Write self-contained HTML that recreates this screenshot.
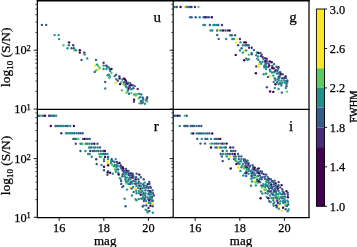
<!DOCTYPE html>
<html><head><meta charset="utf-8"><style>
html,body{margin:0;padding:0;background:#fff;}
body{width:357px;height:247px;overflow:hidden;}
svg{display:block;will-change:transform;}
text{font-family:"Liberation Serif",serif;fill:#000;stroke:#000;stroke-width:0.25px;}
</style></head><body>
<svg width="357" height="247" viewBox="0 0 357 247">
<g>
<circle cx="41.9" cy="24.9" r="1.2" fill="#365c8d"/>
<circle cx="46.2" cy="24.9" r="1.2" fill="#365c8d"/>
<circle cx="54.6" cy="35.1" r="1.2" fill="#21918c"/>
<circle cx="58.6" cy="35.1" r="1.2" fill="#21918c"/>
<circle cx="59.1" cy="39.1" r="1.2" fill="#21918c"/>
<circle cx="69.1" cy="42.4" r="1.2" fill="#440154"/>
<circle cx="63.5" cy="45.3" r="1.2" fill="#5ec962"/>
<circle cx="68.8" cy="45.3" r="1.2" fill="#21918c"/>
<circle cx="73.2" cy="45.3" r="1.2" fill="#472d7b"/>
<circle cx="67.5" cy="48.2" r="1.2" fill="#21918c"/>
<circle cx="71.6" cy="48.2" r="1.2" fill="#365c8d"/>
<circle cx="74.0" cy="48.2" r="1.2" fill="#365c8d"/>
<circle cx="74.6" cy="50.3" r="1.2" fill="#5ec962"/>
<circle cx="75.9" cy="50.3" r="1.2" fill="#21918c"/>
<circle cx="79.8" cy="50.3" r="1.2" fill="#440154"/>
<circle cx="79.8" cy="52.6" r="1.2" fill="#440154"/>
<circle cx="84.3" cy="52.6" r="1.2" fill="#472d7b"/>
<circle cx="84.6" cy="54.5" r="1.2" fill="#21918c"/>
<circle cx="87.2" cy="58.4" r="1.2" fill="#21918c"/>
<circle cx="81.5" cy="59.9" r="1.2" fill="#365c8d"/>
<circle cx="96.0" cy="59.9" r="1.2" fill="#365c8d"/>
<circle cx="95.1" cy="65.8" r="1.2" fill="#fde725"/>
<circle cx="97.1" cy="64.6" r="1.2" fill="#21918c"/>
<circle cx="98.2" cy="66.2" r="1.2" fill="#5ec962"/>
<circle cx="98.7" cy="69.3" r="1.2" fill="#fde725"/>
<circle cx="99.7" cy="68.0" r="1.2" fill="#5ec962"/>
<circle cx="96.2" cy="70.3" r="1.2" fill="#5ec962"/>
<circle cx="94.7" cy="71.9" r="1.2" fill="#365c8d"/>
<circle cx="103.6" cy="62.8" r="1.2" fill="#472d7b"/>
<circle cx="103.6" cy="65.6" r="1.2" fill="#21918c"/>
<circle cx="106.2" cy="65.6" r="1.2" fill="#472d7b"/>
<circle cx="107.3" cy="66.7" r="1.2" fill="#365c8d"/>
<circle cx="103.6" cy="69.0" r="1.2" fill="#21918c"/>
<circle cx="106.4" cy="69.0" r="1.2" fill="#21918c"/>
<circle cx="107.7" cy="75.3" r="1.2" fill="#21918c"/>
<circle cx="105.2" cy="82.0" r="1.2" fill="#365c8d"/>
<circle cx="105.2" cy="88.5" r="1.2" fill="#21918c"/>
<circle cx="121.9" cy="90.2" r="1.2" fill="#5ec962"/>
<circle cx="174.8" cy="7.0" r="1.2" fill="#21918c"/>
<circle cx="176.8" cy="7.0" r="1.2" fill="#365c8d"/>
<circle cx="180.6" cy="7.0" r="1.2" fill="#440154"/>
<circle cx="184.6" cy="7.0" r="1.2" fill="#fde725"/>
<circle cx="186.6" cy="7.0" r="1.2" fill="#21918c"/>
<circle cx="188.2" cy="7.0" r="1.2" fill="#21918c"/>
<circle cx="189.9" cy="7.0" r="1.2" fill="#365c8d"/>
<circle cx="191.5" cy="7.0" r="1.2" fill="#472d7b"/>
<circle cx="194.9" cy="7.0" r="1.2" fill="#472d7b"/>
<circle cx="198.5" cy="7.0" r="1.2" fill="#5ec962"/>
<circle cx="190.0" cy="17.3" r="1.2" fill="#21918c"/>
<circle cx="191.6" cy="17.3" r="1.2" fill="#365c8d"/>
<circle cx="195.7" cy="17.3" r="1.2" fill="#365c8d"/>
<circle cx="199.7" cy="17.3" r="1.2" fill="#21918c"/>
<circle cx="203.7" cy="17.3" r="1.2" fill="#365c8d"/>
<circle cx="205.4" cy="17.3" r="1.2" fill="#440154"/>
<circle cx="207.0" cy="17.3" r="1.2" fill="#365c8d"/>
<circle cx="208.9" cy="17.3" r="1.2" fill="#365c8d"/>
<circle cx="211.8" cy="17.3" r="1.2" fill="#440154"/>
<circle cx="203.4" cy="25.0" r="1.2" fill="#21918c"/>
<circle cx="205.0" cy="25.0" r="1.2" fill="#21918c"/>
<circle cx="209.9" cy="25.0" r="1.2" fill="#365c8d"/>
<circle cx="213.4" cy="25.0" r="1.2" fill="#21918c"/>
<circle cx="215.0" cy="25.0" r="1.2" fill="#21918c"/>
<circle cx="216.8" cy="25.0" r="1.2" fill="#21918c"/>
<circle cx="218.3" cy="25.0" r="1.2" fill="#365c8d"/>
<circle cx="222.0" cy="25.0" r="1.2" fill="#472d7b"/>
<circle cx="210.6" cy="30.5" r="1.2" fill="#21918c"/>
<circle cx="212.3" cy="30.5" r="1.2" fill="#21918c"/>
<circle cx="217.2" cy="30.5" r="1.2" fill="#365c8d"/>
<circle cx="219.0" cy="30.5" r="1.2" fill="#fde725"/>
<circle cx="220.6" cy="30.5" r="1.2" fill="#21918c"/>
<circle cx="222.9" cy="30.5" r="1.2" fill="#440154"/>
<circle cx="225.4" cy="30.5" r="1.2" fill="#365c8d"/>
<circle cx="227.8" cy="30.5" r="1.2" fill="#472d7b"/>
<circle cx="229.7" cy="30.5" r="1.2" fill="#440154"/>
<circle cx="217.2" cy="35.0" r="1.2" fill="#365c8d"/>
<circle cx="230.2" cy="35.2" r="1.2" fill="#21918c"/>
<circle cx="231.8" cy="35.2" r="1.2" fill="#365c8d"/>
<circle cx="235.1" cy="35.2" r="1.2" fill="#365c8d"/>
<circle cx="218.7" cy="38.9" r="1.2" fill="#365c8d"/>
<circle cx="226.2" cy="39.0" r="1.2" fill="#21918c"/>
<circle cx="232.3" cy="39.0" r="1.2" fill="#21918c"/>
<circle cx="233.9" cy="39.0" r="1.2" fill="#21918c"/>
<circle cx="236.7" cy="39.0" r="1.2" fill="#fde725"/>
<circle cx="239.9" cy="39.0" r="1.2" fill="#472d7b"/>
<circle cx="236.1" cy="42.4" r="1.2" fill="#fde725"/>
<circle cx="240.5" cy="42.4" r="1.2" fill="#21918c"/>
<circle cx="244.2" cy="42.4" r="1.2" fill="#440154"/>
<circle cx="245.9" cy="42.4" r="1.2" fill="#440154"/>
<circle cx="238.1" cy="45.3" r="1.2" fill="#365c8d"/>
<circle cx="242.9" cy="45.3" r="1.2" fill="#21918c"/>
<circle cx="245.4" cy="45.3" r="1.2" fill="#365c8d"/>
<circle cx="247.0" cy="45.3" r="1.2" fill="#365c8d"/>
<circle cx="248.6" cy="45.3" r="1.2" fill="#365c8d"/>
<circle cx="249.1" cy="47.8" r="1.2" fill="#472d7b"/>
<circle cx="251.8" cy="47.8" r="1.2" fill="#472d7b"/>
<circle cx="241.6" cy="48.2" r="1.2" fill="#365c8d"/>
<circle cx="240.0" cy="50.5" r="1.2" fill="#21918c"/>
<circle cx="244.2" cy="50.5" r="1.2" fill="#fde725"/>
<circle cx="246.2" cy="50.5" r="1.2" fill="#21918c"/>
<circle cx="242.9" cy="52.6" r="1.2" fill="#21918c"/>
<circle cx="235.7" cy="54.9" r="1.2" fill="#440154"/>
<circle cx="246.2" cy="58.6" r="1.2" fill="#365c8d"/>
<circle cx="247.5" cy="59.7" r="1.2" fill="#21918c"/>
<circle cx="244.2" cy="60.2" r="1.2" fill="#440154"/>
<circle cx="255.9" cy="73.2" r="1.2" fill="#440154"/>
<circle cx="263.7" cy="74.2" r="1.2" fill="#21918c"/>
<circle cx="266.9" cy="87.2" r="1.2" fill="#365c8d"/>
<circle cx="38.3" cy="115.8" r="1.2" fill="#365c8d"/>
<circle cx="39.9" cy="115.8" r="1.2" fill="#21918c"/>
<circle cx="41.5" cy="115.8" r="1.2" fill="#5ec962"/>
<circle cx="43.1" cy="115.8" r="1.2" fill="#365c8d"/>
<circle cx="45.1" cy="115.8" r="1.2" fill="#440154"/>
<circle cx="49.1" cy="115.8" r="1.2" fill="#472d7b"/>
<circle cx="50.8" cy="115.8" r="1.2" fill="#365c8d"/>
<circle cx="52.4" cy="115.8" r="1.2" fill="#21918c"/>
<circle cx="54.0" cy="115.8" r="1.2" fill="#365c8d"/>
<circle cx="56.1" cy="115.8" r="1.2" fill="#21918c"/>
<circle cx="50.8" cy="126.0" r="1.2" fill="#440154"/>
<circle cx="55.6" cy="126.0" r="1.2" fill="#365c8d"/>
<circle cx="57.2" cy="126.0" r="1.2" fill="#365c8d"/>
<circle cx="58.8" cy="126.0" r="1.2" fill="#21918c"/>
<circle cx="60.5" cy="126.0" r="1.2" fill="#365c8d"/>
<circle cx="62.1" cy="126.0" r="1.2" fill="#21918c"/>
<circle cx="63.7" cy="126.0" r="1.2" fill="#21918c"/>
<circle cx="65.8" cy="126.0" r="1.2" fill="#365c8d"/>
<circle cx="67.7" cy="126.0" r="1.2" fill="#365c8d"/>
<circle cx="70.2" cy="126.0" r="1.2" fill="#21918c"/>
<circle cx="73.9" cy="126.0" r="1.2" fill="#440154"/>
<circle cx="61.3" cy="133.3" r="1.2" fill="#472d7b"/>
<circle cx="66.1" cy="133.3" r="1.2" fill="#21918c"/>
<circle cx="67.7" cy="133.3" r="1.2" fill="#21918c"/>
<circle cx="69.4" cy="133.3" r="1.2" fill="#21918c"/>
<circle cx="71.0" cy="133.3" r="1.2" fill="#21918c"/>
<circle cx="72.6" cy="133.3" r="1.2" fill="#21918c"/>
<circle cx="74.5" cy="133.3" r="1.2" fill="#365c8d"/>
<circle cx="76.6" cy="133.3" r="1.2" fill="#21918c"/>
<circle cx="78.7" cy="133.3" r="1.2" fill="#365c8d"/>
<circle cx="80.7" cy="133.3" r="1.2" fill="#365c8d"/>
<circle cx="82.6" cy="133.3" r="1.2" fill="#365c8d"/>
<circle cx="73.4" cy="138.9" r="1.2" fill="#365c8d"/>
<circle cx="75.0" cy="138.9" r="1.2" fill="#365c8d"/>
<circle cx="76.6" cy="138.9" r="1.2" fill="#21918c"/>
<circle cx="78.3" cy="138.9" r="1.2" fill="#5ec962"/>
<circle cx="83.1" cy="138.9" r="1.2" fill="#365c8d"/>
<circle cx="84.7" cy="138.9" r="1.2" fill="#440154"/>
<circle cx="86.4" cy="138.9" r="1.2" fill="#365c8d"/>
<circle cx="87.8" cy="138.9" r="1.2" fill="#365c8d"/>
<circle cx="89.7" cy="138.9" r="1.2" fill="#365c8d"/>
<circle cx="75.8" cy="143.7" r="1.2" fill="#365c8d"/>
<circle cx="80.5" cy="143.7" r="1.2" fill="#21918c"/>
<circle cx="82.1" cy="143.7" r="1.2" fill="#21918c"/>
<circle cx="83.8" cy="143.7" r="1.2" fill="#fde725"/>
<circle cx="85.9" cy="143.7" r="1.2" fill="#21918c"/>
<circle cx="87.5" cy="143.7" r="1.2" fill="#21918c"/>
<circle cx="89.4" cy="143.7" r="1.2" fill="#21918c"/>
<circle cx="91.8" cy="143.7" r="1.2" fill="#365c8d"/>
<circle cx="94.3" cy="143.7" r="1.2" fill="#440154"/>
<circle cx="97.5" cy="143.7" r="1.2" fill="#365c8d"/>
<circle cx="89.1" cy="147.5" r="1.2" fill="#21918c"/>
<circle cx="91.0" cy="147.5" r="1.2" fill="#365c8d"/>
<circle cx="93.5" cy="147.5" r="1.2" fill="#21918c"/>
<circle cx="95.1" cy="147.5" r="1.2" fill="#21918c"/>
<circle cx="97.5" cy="147.5" r="1.2" fill="#21918c"/>
<circle cx="99.9" cy="147.5" r="1.2" fill="#365c8d"/>
<circle cx="80.5" cy="151.0" r="1.2" fill="#365c8d"/>
<circle cx="85.4" cy="151.0" r="1.2" fill="#21918c"/>
<circle cx="90.2" cy="151.0" r="1.2" fill="#472d7b"/>
<circle cx="92.7" cy="151.0" r="1.2" fill="#365c8d"/>
<circle cx="94.3" cy="151.0" r="1.2" fill="#365c8d"/>
<circle cx="96.2" cy="151.0" r="1.2" fill="#21918c"/>
<circle cx="98.3" cy="151.0" r="1.2" fill="#365c8d"/>
<circle cx="100.7" cy="151.0" r="1.2" fill="#365c8d"/>
<circle cx="103.2" cy="151.0" r="1.2" fill="#365c8d"/>
<circle cx="104.8" cy="151.0" r="1.2" fill="#440154"/>
<circle cx="88.1" cy="154.0" r="1.2" fill="#21918c"/>
<circle cx="89.7" cy="154.0" r="1.2" fill="#21918c"/>
<circle cx="99.1" cy="154.0" r="1.2" fill="#5ec962"/>
<circle cx="100.7" cy="154.0" r="1.2" fill="#21918c"/>
<circle cx="102.4" cy="154.0" r="1.2" fill="#21918c"/>
<circle cx="104.0" cy="154.0" r="1.2" fill="#365c8d"/>
<circle cx="105.6" cy="154.0" r="1.2" fill="#365c8d"/>
<circle cx="107.5" cy="154.0" r="1.2" fill="#21918c"/>
<circle cx="91.8" cy="156.8" r="1.2" fill="#21918c"/>
<circle cx="99.9" cy="156.8" r="1.2" fill="#21918c"/>
<circle cx="96.2" cy="159.3" r="1.2" fill="#472d7b"/>
<circle cx="96.7" cy="164.0" r="1.2" fill="#365c8d"/>
<circle cx="101.5" cy="156.9" r="1.2" fill="#5ec962"/>
<circle cx="105.1" cy="156.9" r="1.2" fill="#440154"/>
<circle cx="108.1" cy="156.9" r="1.2" fill="#365c8d"/>
<circle cx="104.0" cy="159.1" r="1.2" fill="#21918c"/>
<circle cx="108.1" cy="159.1" r="1.2" fill="#21918c"/>
<circle cx="111.7" cy="159.1" r="1.2" fill="#472d7b"/>
<circle cx="115.7" cy="159.1" r="1.2" fill="#21918c"/>
<circle cx="104.0" cy="161.1" r="1.2" fill="#365c8d"/>
<circle cx="107.6" cy="161.1" r="1.2" fill="#fde725"/>
<circle cx="111.1" cy="161.1" r="1.2" fill="#21918c"/>
<circle cx="112.7" cy="161.1" r="1.2" fill="#365c8d"/>
<circle cx="107.6" cy="163.2" r="1.2" fill="#fde725"/>
<circle cx="111.1" cy="163.2" r="1.2" fill="#21918c"/>
<circle cx="101.5" cy="165.0" r="1.2" fill="#21918c"/>
<circle cx="108.1" cy="165.2" r="1.2" fill="#440154"/>
<circle cx="112.2" cy="165.0" r="1.2" fill="#5ec962"/>
<circle cx="104.0" cy="166.7" r="1.2" fill="#440154"/>
<circle cx="104.0" cy="170.3" r="1.2" fill="#365c8d"/>
<circle cx="108.1" cy="171.1" r="1.2" fill="#21918c"/>
<circle cx="107.6" cy="172.5" r="1.2" fill="#440154"/>
<circle cx="110.1" cy="172.8" r="1.2" fill="#440154"/>
<circle cx="112.7" cy="173.8" r="1.2" fill="#21918c"/>
<circle cx="125.6" cy="206.3" r="1.2" fill="#365c8d"/>
<circle cx="107.4" cy="174.8" r="1.2" fill="#365c8d"/>
<circle cx="174.3" cy="115.8" r="1.2" fill="#365c8d"/>
<circle cx="175.9" cy="115.8" r="1.2" fill="#365c8d"/>
<circle cx="177.9" cy="115.8" r="1.2" fill="#440154"/>
<circle cx="179.8" cy="115.8" r="1.2" fill="#365c8d"/>
<circle cx="184.7" cy="115.8" r="1.2" fill="#5ec962"/>
<circle cx="186.8" cy="115.8" r="1.2" fill="#365c8d"/>
<circle cx="179.8" cy="126.0" r="1.2" fill="#21918c"/>
<circle cx="184.3" cy="126.0" r="1.2" fill="#365c8d"/>
<circle cx="185.9" cy="126.0" r="1.2" fill="#365c8d"/>
<circle cx="187.6" cy="126.0" r="1.2" fill="#365c8d"/>
<circle cx="190.8" cy="126.0" r="1.2" fill="#365c8d"/>
<circle cx="192.4" cy="126.0" r="1.2" fill="#365c8d"/>
<circle cx="194.0" cy="126.0" r="1.2" fill="#365c8d"/>
<circle cx="196.5" cy="126.0" r="1.2" fill="#365c8d"/>
<circle cx="198.9" cy="126.0" r="1.2" fill="#365c8d"/>
<circle cx="201.3" cy="126.0" r="1.2" fill="#365c8d"/>
<circle cx="191.6" cy="133.4" r="1.2" fill="#21918c"/>
<circle cx="193.2" cy="133.4" r="1.2" fill="#440154"/>
<circle cx="196.5" cy="133.4" r="1.2" fill="#21918c"/>
<circle cx="198.1" cy="133.4" r="1.2" fill="#21918c"/>
<circle cx="199.7" cy="133.4" r="1.2" fill="#365c8d"/>
<circle cx="201.3" cy="133.4" r="1.2" fill="#365c8d"/>
<circle cx="203.4" cy="133.4" r="1.2" fill="#365c8d"/>
<circle cx="205.4" cy="133.4" r="1.2" fill="#21918c"/>
<circle cx="207.3" cy="133.4" r="1.2" fill="#365c8d"/>
<circle cx="209.4" cy="133.4" r="1.2" fill="#365c8d"/>
<circle cx="212.2" cy="133.4" r="1.2" fill="#440154"/>
<circle cx="197.3" cy="138.9" r="1.2" fill="#365c8d"/>
<circle cx="201.8" cy="138.9" r="1.2" fill="#21918c"/>
<circle cx="205.4" cy="138.9" r="1.2" fill="#365c8d"/>
<circle cx="207.3" cy="138.9" r="1.2" fill="#365c8d"/>
<circle cx="211.0" cy="138.9" r="1.2" fill="#21918c"/>
<circle cx="214.7" cy="138.9" r="1.2" fill="#365c8d"/>
<circle cx="216.4" cy="138.9" r="1.2" fill="#365c8d"/>
<circle cx="218.3" cy="138.9" r="1.2" fill="#365c8d"/>
<circle cx="220.2" cy="138.9" r="1.2" fill="#440154"/>
<circle cx="200.5" cy="143.6" r="1.2" fill="#365c8d"/>
<circle cx="205.0" cy="143.6" r="1.2" fill="#365c8d"/>
<circle cx="210.5" cy="143.6" r="1.2" fill="#5ec962"/>
<circle cx="212.2" cy="143.6" r="1.2" fill="#21918c"/>
<circle cx="214.7" cy="143.6" r="1.2" fill="#365c8d"/>
<circle cx="216.7" cy="143.6" r="1.2" fill="#365c8d"/>
<circle cx="218.6" cy="143.6" r="1.2" fill="#365c8d"/>
<circle cx="221.2" cy="143.6" r="1.2" fill="#365c8d"/>
<circle cx="222.8" cy="143.6" r="1.2" fill="#472d7b"/>
<circle cx="224.3" cy="143.6" r="1.2" fill="#21918c"/>
<circle cx="226.7" cy="143.6" r="1.2" fill="#440154"/>
<circle cx="211.0" cy="147.5" r="1.2" fill="#440154"/>
<circle cx="215.4" cy="147.5" r="1.2" fill="#21918c"/>
<circle cx="217.0" cy="147.5" r="1.2" fill="#365c8d"/>
<circle cx="218.6" cy="147.5" r="1.2" fill="#fde725"/>
<circle cx="220.2" cy="147.5" r="1.2" fill="#21918c"/>
<circle cx="221.8" cy="147.5" r="1.2" fill="#21918c"/>
<circle cx="224.3" cy="147.5" r="1.2" fill="#21918c"/>
<circle cx="225.9" cy="147.5" r="1.2" fill="#365c8d"/>
<circle cx="230.4" cy="147.5" r="1.2" fill="#440154"/>
<circle cx="233.2" cy="147.5" r="1.2" fill="#365c8d"/>
<circle cx="222.7" cy="151.0" r="1.2" fill="#472d7b"/>
<circle cx="226.7" cy="151.0" r="1.2" fill="#21918c"/>
<circle cx="231.1" cy="151.0" r="1.2" fill="#365c8d"/>
<circle cx="233.2" cy="151.0" r="1.2" fill="#365c8d"/>
<circle cx="235.3" cy="151.0" r="1.2" fill="#365c8d"/>
<circle cx="220.7" cy="154.0" r="1.2" fill="#365c8d"/>
<circle cx="223.0" cy="154.0" r="1.2" fill="#21918c"/>
<circle cx="225.6" cy="154.0" r="1.2" fill="#21918c"/>
<circle cx="227.8" cy="154.0" r="1.2" fill="#365c8d"/>
<circle cx="229.9" cy="154.0" r="1.2" fill="#365c8d"/>
<circle cx="232.4" cy="154.0" r="1.2" fill="#472d7b"/>
<circle cx="234.8" cy="154.0" r="1.2" fill="#440154"/>
<circle cx="238.0" cy="154.0" r="1.2" fill="#365c8d"/>
<circle cx="221.8" cy="156.4" r="1.2" fill="#365c8d"/>
<circle cx="226.7" cy="156.4" r="1.2" fill="#21918c"/>
<circle cx="229.9" cy="156.4" r="1.2" fill="#fde725"/>
<circle cx="234.0" cy="156.4" r="1.2" fill="#21918c"/>
<circle cx="235.6" cy="156.4" r="1.2" fill="#365c8d"/>
<circle cx="238.8" cy="156.4" r="1.2" fill="#365c8d"/>
<circle cx="241.3" cy="156.4" r="1.2" fill="#365c8d"/>
<circle cx="228.8" cy="159.1" r="1.2" fill="#21918c"/>
<circle cx="234.0" cy="159.1" r="1.2" fill="#365c8d"/>
<circle cx="238.8" cy="159.1" r="1.2" fill="#365c8d"/>
<circle cx="241.3" cy="159.1" r="1.2" fill="#21918c"/>
<circle cx="243.7" cy="159.1" r="1.2" fill="#365c8d"/>
<circle cx="222.7" cy="161.1" r="1.2" fill="#472d7b"/>
<circle cx="235.6" cy="160.7" r="1.2" fill="#21918c"/>
<circle cx="237.2" cy="161.6" r="1.2" fill="#5ec962"/>
<circle cx="239.6" cy="161.6" r="1.2" fill="#21918c"/>
<circle cx="236.4" cy="164.0" r="1.2" fill="#440154"/>
<circle cx="239.6" cy="164.0" r="1.2" fill="#21918c"/>
<circle cx="230.7" cy="168.5" r="1.2" fill="#440154"/>
<circle cx="238.8" cy="168.0" r="1.2" fill="#fde725"/>
<circle cx="235.5" cy="158.6" r="1.2" fill="#21918c"/>
<circle cx="245.1" cy="159.6" r="1.2" fill="#365c8d"/>
<circle cx="238.0" cy="163.2" r="1.2" fill="#365c8d"/>
<circle cx="238.0" cy="166.7" r="1.2" fill="#fde725"/>
<circle cx="255.6" cy="182.2" r="1.2" fill="#5ec962"/>
<circle cx="257.7" cy="182.7" r="1.2" fill="#5ec962"/>
<circle cx="260.2" cy="182.2" r="1.2" fill="#21918c"/>
<circle cx="251.1" cy="185.7" r="1.2" fill="#21918c"/>
<circle cx="114.5" cy="162.0" r="1.2" fill="#365c8d"/>
<circle cx="116.9" cy="162.0" r="1.2" fill="#365c8d"/>
<circle cx="117.8" cy="163.6" r="1.2" fill="#365c8d"/>
<circle cx="119.5" cy="162.9" r="1.2" fill="#440154"/>
<circle cx="114.8" cy="165.0" r="1.2" fill="#21918c"/>
<circle cx="116.4" cy="165.0" r="1.2" fill="#21918c"/>
<circle cx="120.7" cy="165.4" r="1.2" fill="#440154"/>
<circle cx="114.1" cy="166.3" r="1.2" fill="#21918c"/>
<circle cx="116.4" cy="166.9" r="1.2" fill="#21918c"/>
<circle cx="117.7" cy="166.2" r="1.2" fill="#21918c"/>
<circle cx="120.5" cy="166.8" r="1.2" fill="#365c8d"/>
<circle cx="122.6" cy="167.3" r="1.2" fill="#440154"/>
<circle cx="115.0" cy="169.5" r="1.2" fill="#5ec962"/>
<circle cx="116.5" cy="169.4" r="1.2" fill="#21918c"/>
<circle cx="118.2" cy="169.5" r="1.2" fill="#365c8d"/>
<circle cx="121.4" cy="168.5" r="1.2" fill="#365c8d"/>
<circle cx="123.3" cy="168.7" r="1.2" fill="#440154"/>
<circle cx="126.0" cy="168.9" r="1.2" fill="#365c8d"/>
<circle cx="122.7" cy="170.5" r="1.2" fill="#472d7b"/>
<circle cx="124.7" cy="170.9" r="1.2" fill="#365c8d"/>
<circle cx="127.0" cy="170.9" r="1.2" fill="#440154"/>
<circle cx="128.5" cy="171.0" r="1.2" fill="#365c8d"/>
<circle cx="115.9" cy="171.7" r="1.2" fill="#21918c"/>
<circle cx="118.3" cy="172.7" r="1.2" fill="#21918c"/>
<circle cx="124.1" cy="172.2" r="1.2" fill="#365c8d"/>
<circle cx="125.7" cy="171.8" r="1.2" fill="#365c8d"/>
<circle cx="127.5" cy="172.2" r="1.2" fill="#365c8d"/>
<circle cx="118.7" cy="174.5" r="1.2" fill="#440154"/>
<circle cx="122.8" cy="174.3" r="1.2" fill="#365c8d"/>
<circle cx="124.9" cy="173.5" r="1.2" fill="#21918c"/>
<circle cx="126.2" cy="174.2" r="1.2" fill="#21918c"/>
<circle cx="129.0" cy="173.4" r="1.2" fill="#365c8d"/>
<circle cx="130.9" cy="173.4" r="1.2" fill="#440154"/>
<circle cx="132.8" cy="173.7" r="1.2" fill="#365c8d"/>
<circle cx="122.3" cy="176.3" r="1.2" fill="#365c8d"/>
<circle cx="124.6" cy="176.3" r="1.2" fill="#21918c"/>
<circle cx="128.7" cy="175.1" r="1.2" fill="#472d7b"/>
<circle cx="130.1" cy="175.6" r="1.2" fill="#365c8d"/>
<circle cx="132.2" cy="175.3" r="1.2" fill="#472d7b"/>
<circle cx="133.4" cy="176.1" r="1.2" fill="#365c8d"/>
<circle cx="119.9" cy="178.1" r="1.2" fill="#21918c"/>
<circle cx="125.5" cy="177.5" r="1.2" fill="#21918c"/>
<circle cx="127.3" cy="177.6" r="1.2" fill="#21918c"/>
<circle cx="130.0" cy="177.6" r="1.2" fill="#365c8d"/>
<circle cx="132.1" cy="177.5" r="1.2" fill="#440154"/>
<circle cx="133.4" cy="177.8" r="1.2" fill="#365c8d"/>
<circle cx="120.7" cy="179.1" r="1.2" fill="#21918c"/>
<circle cx="125.5" cy="179.3" r="1.2" fill="#21918c"/>
<circle cx="128.9" cy="179.4" r="1.2" fill="#365c8d"/>
<circle cx="130.3" cy="179.4" r="1.2" fill="#21918c"/>
<circle cx="121.1" cy="181.0" r="1.2" fill="#365c8d"/>
<circle cx="125.7" cy="180.8" r="1.2" fill="#21918c"/>
<circle cx="127.9" cy="181.3" r="1.2" fill="#21918c"/>
<circle cx="131.9" cy="181.6" r="1.2" fill="#21918c"/>
<circle cx="133.7" cy="180.9" r="1.2" fill="#365c8d"/>
<circle cx="126.5" cy="182.2" r="1.2" fill="#21918c"/>
<circle cx="130.7" cy="182.2" r="1.2" fill="#365c8d"/>
<circle cx="136.6" cy="173.8" r="1.2" fill="#365c8d"/>
<circle cx="139.3" cy="174.6" r="1.2" fill="#440154"/>
<circle cx="140.9" cy="177.2" r="1.2" fill="#365c8d"/>
<circle cx="136.1" cy="177.2" r="1.2" fill="#365c8d"/>
<circle cx="135.7" cy="179.4" r="1.2" fill="#440154"/>
<circle cx="138.3" cy="179.2" r="1.2" fill="#365c8d"/>
<circle cx="143.7" cy="179.2" r="1.2" fill="#365c8d"/>
<circle cx="135.7" cy="181.7" r="1.2" fill="#21918c"/>
<circle cx="138.9" cy="181.8" r="1.2" fill="#365c8d"/>
<circle cx="149.2" cy="182.0" r="1.2" fill="#365c8d"/>
<circle cx="144.6" cy="182.6" r="1.2" fill="#21918c"/>
<circle cx="136.7" cy="183.8" r="1.2" fill="#21918c"/>
<circle cx="138.3" cy="183.4" r="1.2" fill="#365c8d"/>
<circle cx="140.8" cy="183.5" r="1.2" fill="#21918c"/>
<circle cx="143.3" cy="184.3" r="1.2" fill="#365c8d"/>
<circle cx="147.8" cy="184.1" r="1.2" fill="#440154"/>
<circle cx="149.5" cy="183.7" r="1.2" fill="#365c8d"/>
<circle cx="136.4" cy="185.9" r="1.2" fill="#21918c"/>
<circle cx="139.3" cy="185.8" r="1.2" fill="#472d7b"/>
<circle cx="141.0" cy="186.0" r="1.2" fill="#21918c"/>
<circle cx="143.8" cy="186.0" r="1.2" fill="#365c8d"/>
<circle cx="146.1" cy="185.7" r="1.2" fill="#21918c"/>
<circle cx="147.4" cy="186.6" r="1.2" fill="#365c8d"/>
<circle cx="150.1" cy="186.7" r="1.2" fill="#365c8d"/>
<circle cx="135.3" cy="188.8" r="1.2" fill="#fde725"/>
<circle cx="138.1" cy="188.0" r="1.2" fill="#21918c"/>
<circle cx="140.5" cy="188.7" r="1.2" fill="#440154"/>
<circle cx="142.3" cy="188.3" r="1.2" fill="#21918c"/>
<circle cx="144.1" cy="188.1" r="1.2" fill="#21918c"/>
<circle cx="146.3" cy="187.8" r="1.2" fill="#365c8d"/>
<circle cx="148.5" cy="188.0" r="1.2" fill="#365c8d"/>
<circle cx="150.9" cy="187.8" r="1.2" fill="#365c8d"/>
<circle cx="136.3" cy="190.8" r="1.2" fill="#21918c"/>
<circle cx="139.0" cy="191.1" r="1.2" fill="#21918c"/>
<circle cx="141.2" cy="190.7" r="1.2" fill="#5ec962"/>
<circle cx="142.5" cy="190.9" r="1.2" fill="#21918c"/>
<circle cx="145.4" cy="190.4" r="1.2" fill="#365c8d"/>
<circle cx="148.1" cy="190.6" r="1.2" fill="#365c8d"/>
<circle cx="150.0" cy="191.1" r="1.2" fill="#440154"/>
<circle cx="152.5" cy="190.4" r="1.2" fill="#365c8d"/>
<circle cx="136.6" cy="193.2" r="1.2" fill="#21918c"/>
<circle cx="139.0" cy="193.1" r="1.2" fill="#21918c"/>
<circle cx="141.1" cy="192.4" r="1.2" fill="#21918c"/>
<circle cx="143.5" cy="193.2" r="1.2" fill="#365c8d"/>
<circle cx="145.4" cy="193.2" r="1.2" fill="#21918c"/>
<circle cx="148.8" cy="193.2" r="1.2" fill="#365c8d"/>
<circle cx="150.9" cy="192.2" r="1.2" fill="#365c8d"/>
<circle cx="152.9" cy="193.2" r="1.2" fill="#365c8d"/>
<circle cx="140.7" cy="194.7" r="1.2" fill="#440154"/>
<circle cx="142.8" cy="195.0" r="1.2" fill="#21918c"/>
<circle cx="145.1" cy="195.0" r="1.2" fill="#21918c"/>
<circle cx="147.8" cy="194.4" r="1.2" fill="#5ec962"/>
<circle cx="149.3" cy="194.6" r="1.2" fill="#365c8d"/>
<circle cx="151.1" cy="194.5" r="1.2" fill="#21918c"/>
<circle cx="153.8" cy="195.4" r="1.2" fill="#472d7b"/>
<circle cx="143.1" cy="197.2" r="1.2" fill="#21918c"/>
<circle cx="145.5" cy="197.0" r="1.2" fill="#365c8d"/>
<circle cx="147.8" cy="197.4" r="1.2" fill="#21918c"/>
<circle cx="150.2" cy="197.0" r="1.2" fill="#21918c"/>
<circle cx="152.1" cy="197.0" r="1.2" fill="#365c8d"/>
<circle cx="135.5" cy="199.1" r="1.2" fill="#21918c"/>
<circle cx="138.8" cy="198.9" r="1.2" fill="#21918c"/>
<circle cx="141.3" cy="198.6" r="1.2" fill="#365c8d"/>
<circle cx="144.7" cy="199.1" r="1.2" fill="#472d7b"/>
<circle cx="147.8" cy="198.9" r="1.2" fill="#21918c"/>
<circle cx="150.0" cy="199.1" r="1.2" fill="#365c8d"/>
<circle cx="151.8" cy="198.8" r="1.2" fill="#21918c"/>
<circle cx="143.9" cy="201.0" r="1.2" fill="#365c8d"/>
<circle cx="146.0" cy="201.0" r="1.2" fill="#21918c"/>
<circle cx="149.2" cy="200.5" r="1.2" fill="#440154"/>
<circle cx="151.5" cy="201.0" r="1.2" fill="#21918c"/>
<circle cx="152.9" cy="200.7" r="1.2" fill="#365c8d"/>
<circle cx="146.5" cy="203.5" r="1.2" fill="#fde725"/>
<circle cx="148.8" cy="202.8" r="1.2" fill="#21918c"/>
<circle cx="150.5" cy="203.3" r="1.2" fill="#21918c"/>
<circle cx="152.6" cy="203.0" r="1.2" fill="#fde725"/>
<circle cx="121.2" cy="183.9" r="1.2" fill="#365c8d"/>
<circle cx="126.7" cy="183.6" r="1.2" fill="#5ec962"/>
<circle cx="128.8" cy="184.0" r="1.2" fill="#21918c"/>
<circle cx="130.4" cy="184.0" r="1.2" fill="#365c8d"/>
<circle cx="132.5" cy="183.5" r="1.2" fill="#21918c"/>
<circle cx="135.1" cy="183.8" r="1.2" fill="#365c8d"/>
<circle cx="123.3" cy="186.1" r="1.2" fill="#365c8d"/>
<circle cx="122.3" cy="187.1" r="1.2" fill="#365c8d"/>
<circle cx="130.3" cy="187.4" r="1.2" fill="#fde725"/>
<circle cx="133.1" cy="187.0" r="1.2" fill="#21918c"/>
<circle cx="127.0" cy="189.6" r="1.2" fill="#21918c"/>
<circle cx="131.6" cy="188.6" r="1.2" fill="#365c8d"/>
<circle cx="133.7" cy="191.9" r="1.2" fill="#365c8d"/>
<circle cx="131.9" cy="195.5" r="1.2" fill="#21918c"/>
<circle cx="124.6" cy="198.8" r="1.2" fill="#21918c"/>
<circle cx="136.5" cy="200.2" r="1.2" fill="#21918c"/>
<circle cx="142.9" cy="198.7" r="1.2" fill="#21918c"/>
<circle cx="153.0" cy="204.7" r="1.2" fill="#fde725"/>
<circle cx="143.7" cy="205.6" r="1.2" fill="#365c8d"/>
<circle cx="146.3" cy="205.5" r="1.2" fill="#365c8d"/>
<circle cx="150.4" cy="205.7" r="1.2" fill="#440154"/>
<circle cx="152.7" cy="206.3" r="1.2" fill="#365c8d"/>
<circle cx="142.7" cy="206.5" r="1.2" fill="#365c8d"/>
<circle cx="148.5" cy="208.0" r="1.2" fill="#472d7b"/>
<circle cx="145.7" cy="209.8" r="1.2" fill="#21918c"/>
<circle cx="147.6" cy="211.0" r="1.2" fill="#21918c"/>
<circle cx="149.5" cy="211.1" r="1.2" fill="#365c8d"/>
<circle cx="152.8" cy="212.7" r="1.2" fill="#21918c"/>
<circle cx="147.6" cy="212.4" r="1.2" fill="#21918c"/>
<circle cx="240.9" cy="161.2" r="1.2" fill="#21918c"/>
<circle cx="244.0" cy="160.8" r="1.2" fill="#365c8d"/>
<circle cx="246.0" cy="161.5" r="1.2" fill="#472d7b"/>
<circle cx="247.6" cy="160.6" r="1.2" fill="#365c8d"/>
<circle cx="242.9" cy="163.7" r="1.2" fill="#21918c"/>
<circle cx="245.3" cy="162.8" r="1.2" fill="#365c8d"/>
<circle cx="246.8" cy="162.8" r="1.2" fill="#365c8d"/>
<circle cx="248.6" cy="163.3" r="1.2" fill="#365c8d"/>
<circle cx="242.2" cy="165.8" r="1.2" fill="#21918c"/>
<circle cx="245.6" cy="165.2" r="1.2" fill="#365c8d"/>
<circle cx="248.2" cy="164.8" r="1.2" fill="#472d7b"/>
<circle cx="250.3" cy="165.7" r="1.2" fill="#365c8d"/>
<circle cx="252.7" cy="165.1" r="1.2" fill="#365c8d"/>
<circle cx="241.4" cy="167.3" r="1.2" fill="#21918c"/>
<circle cx="243.1" cy="166.9" r="1.2" fill="#5ec962"/>
<circle cx="245.2" cy="167.1" r="1.2" fill="#365c8d"/>
<circle cx="246.8" cy="167.2" r="1.2" fill="#440154"/>
<circle cx="249.4" cy="167.0" r="1.2" fill="#365c8d"/>
<circle cx="253.2" cy="167.3" r="1.2" fill="#365c8d"/>
<circle cx="254.7" cy="167.6" r="1.2" fill="#440154"/>
<circle cx="244.0" cy="168.4" r="1.2" fill="#5ec962"/>
<circle cx="246.6" cy="168.7" r="1.2" fill="#21918c"/>
<circle cx="248.8" cy="169.2" r="1.2" fill="#365c8d"/>
<circle cx="252.7" cy="169.3" r="1.2" fill="#365c8d"/>
<circle cx="254.5" cy="169.2" r="1.2" fill="#440154"/>
<circle cx="257.4" cy="169.1" r="1.2" fill="#365c8d"/>
<circle cx="258.7" cy="168.4" r="1.2" fill="#440154"/>
<circle cx="240.4" cy="170.9" r="1.2" fill="#21918c"/>
<circle cx="246.4" cy="171.3" r="1.2" fill="#21918c"/>
<circle cx="248.6" cy="170.7" r="1.2" fill="#21918c"/>
<circle cx="250.8" cy="171.3" r="1.2" fill="#365c8d"/>
<circle cx="252.6" cy="171.6" r="1.2" fill="#21918c"/>
<circle cx="254.9" cy="170.6" r="1.2" fill="#365c8d"/>
<circle cx="256.9" cy="170.7" r="1.2" fill="#365c8d"/>
<circle cx="258.1" cy="171.4" r="1.2" fill="#365c8d"/>
<circle cx="260.6" cy="171.2" r="1.2" fill="#365c8d"/>
<circle cx="245.0" cy="173.3" r="1.2" fill="#21918c"/>
<circle cx="246.5" cy="173.0" r="1.2" fill="#440154"/>
<circle cx="248.5" cy="173.7" r="1.2" fill="#21918c"/>
<circle cx="251.4" cy="173.5" r="1.2" fill="#21918c"/>
<circle cx="252.7" cy="173.2" r="1.2" fill="#472d7b"/>
<circle cx="254.5" cy="173.3" r="1.2" fill="#21918c"/>
<circle cx="257.3" cy="172.9" r="1.2" fill="#365c8d"/>
<circle cx="259.1" cy="173.1" r="1.2" fill="#440154"/>
<circle cx="261.7" cy="173.2" r="1.2" fill="#365c8d"/>
<circle cx="243.4" cy="175.5" r="1.2" fill="#21918c"/>
<circle cx="246.2" cy="175.9" r="1.2" fill="#365c8d"/>
<circle cx="251.5" cy="176.0" r="1.2" fill="#472d7b"/>
<circle cx="253.4" cy="175.3" r="1.2" fill="#21918c"/>
<circle cx="255.2" cy="175.1" r="1.2" fill="#365c8d"/>
<circle cx="258.1" cy="175.9" r="1.2" fill="#365c8d"/>
<circle cx="259.7" cy="175.2" r="1.2" fill="#365c8d"/>
<circle cx="252.4" cy="177.7" r="1.2" fill="#21918c"/>
<circle cx="254.5" cy="177.7" r="1.2" fill="#21918c"/>
<circle cx="256.6" cy="177.0" r="1.2" fill="#5ec962"/>
<circle cx="260.9" cy="177.5" r="1.2" fill="#365c8d"/>
<circle cx="251.3" cy="178.8" r="1.2" fill="#21918c"/>
<circle cx="257.2" cy="179.6" r="1.2" fill="#472d7b"/>
<circle cx="259.5" cy="179.0" r="1.2" fill="#21918c"/>
<circle cx="261.5" cy="179.2" r="1.2" fill="#365c8d"/>
<circle cx="252.1" cy="181.5" r="1.2" fill="#21918c"/>
<circle cx="254.4" cy="180.7" r="1.2" fill="#fde725"/>
<circle cx="257.3" cy="180.9" r="1.2" fill="#21918c"/>
<circle cx="258.8" cy="181.2" r="1.2" fill="#440154"/>
<circle cx="262.0" cy="171.8" r="1.2" fill="#365c8d"/>
<circle cx="263.7" cy="174.1" r="1.2" fill="#472d7b"/>
<circle cx="266.1" cy="174.6" r="1.2" fill="#472d7b"/>
<circle cx="262.7" cy="177.1" r="1.2" fill="#365c8d"/>
<circle cx="265.0" cy="176.6" r="1.2" fill="#365c8d"/>
<circle cx="267.7" cy="177.0" r="1.2" fill="#21918c"/>
<circle cx="268.7" cy="178.7" r="1.2" fill="#440154"/>
<circle cx="264.9" cy="178.7" r="1.2" fill="#365c8d"/>
<circle cx="266.9" cy="179.8" r="1.2" fill="#365c8d"/>
<circle cx="268.7" cy="180.0" r="1.2" fill="#365c8d"/>
<circle cx="270.8" cy="179.2" r="1.2" fill="#365c8d"/>
<circle cx="272.1" cy="181.2" r="1.2" fill="#472d7b"/>
<circle cx="274.5" cy="180.6" r="1.2" fill="#365c8d"/>
<circle cx="266.3" cy="181.8" r="1.2" fill="#21918c"/>
<circle cx="268.5" cy="182.3" r="1.2" fill="#365c8d"/>
<circle cx="270.5" cy="183.0" r="1.2" fill="#21918c"/>
<circle cx="273.3" cy="182.0" r="1.2" fill="#365c8d"/>
<circle cx="275.5" cy="183.2" r="1.2" fill="#440154"/>
<circle cx="278.6" cy="182.1" r="1.2" fill="#472d7b"/>
<circle cx="263.3" cy="184.2" r="1.2" fill="#21918c"/>
<circle cx="265.7" cy="184.2" r="1.2" fill="#21918c"/>
<circle cx="268.7" cy="183.8" r="1.2" fill="#21918c"/>
<circle cx="271.3" cy="184.7" r="1.2" fill="#440154"/>
<circle cx="273.9" cy="184.2" r="1.2" fill="#365c8d"/>
<circle cx="276.1" cy="185.4" r="1.2" fill="#365c8d"/>
<circle cx="278.5" cy="185.2" r="1.2" fill="#365c8d"/>
<circle cx="281.6" cy="185.1" r="1.2" fill="#440154"/>
<circle cx="262.2" cy="187.2" r="1.2" fill="#5ec962"/>
<circle cx="265.2" cy="187.1" r="1.2" fill="#21918c"/>
<circle cx="268.0" cy="186.7" r="1.2" fill="#21918c"/>
<circle cx="272.2" cy="187.0" r="1.2" fill="#365c8d"/>
<circle cx="274.2" cy="186.4" r="1.2" fill="#365c8d"/>
<circle cx="277.5" cy="186.9" r="1.2" fill="#440154"/>
<circle cx="280.2" cy="187.4" r="1.2" fill="#365c8d"/>
<circle cx="263.7" cy="188.9" r="1.2" fill="#fde725"/>
<circle cx="266.0" cy="189.4" r="1.2" fill="#5ec962"/>
<circle cx="269.1" cy="188.8" r="1.2" fill="#365c8d"/>
<circle cx="274.9" cy="189.3" r="1.2" fill="#365c8d"/>
<circle cx="277.8" cy="188.7" r="1.2" fill="#440154"/>
<circle cx="282.2" cy="189.2" r="1.2" fill="#365c8d"/>
<circle cx="267.8" cy="191.3" r="1.2" fill="#365c8d"/>
<circle cx="271.0" cy="191.2" r="1.2" fill="#365c8d"/>
<circle cx="273.7" cy="192.4" r="1.2" fill="#21918c"/>
<circle cx="278.4" cy="190.8" r="1.2" fill="#365c8d"/>
<circle cx="282.8" cy="191.4" r="1.2" fill="#365c8d"/>
<circle cx="286.4" cy="191.1" r="1.2" fill="#440154"/>
<circle cx="255.9" cy="185.4" r="1.2" fill="#21918c"/>
<circle cx="261.4" cy="185.6" r="1.2" fill="#365c8d"/>
<circle cx="263.3" cy="185.9" r="1.2" fill="#21918c"/>
<circle cx="265.6" cy="185.7" r="1.2" fill="#21918c"/>
<circle cx="267.2" cy="185.6" r="1.2" fill="#365c8d"/>
<circle cx="270.0" cy="186.1" r="1.2" fill="#21918c"/>
<circle cx="271.1" cy="187.9" r="1.2" fill="#365c8d"/>
<circle cx="276.4" cy="187.7" r="1.2" fill="#365c8d"/>
<circle cx="264.7" cy="190.0" r="1.2" fill="#5ec962"/>
<circle cx="272.3" cy="189.0" r="1.2" fill="#365c8d"/>
<circle cx="261.0" cy="191.4" r="1.2" fill="#21918c"/>
<circle cx="269.4" cy="191.5" r="1.2" fill="#472d7b"/>
<circle cx="274.1" cy="191.0" r="1.2" fill="#472d7b"/>
<circle cx="275.8" cy="190.9" r="1.2" fill="#365c8d"/>
<circle cx="262.4" cy="193.5" r="1.2" fill="#21918c"/>
<circle cx="265.5" cy="193.1" r="1.2" fill="#365c8d"/>
<circle cx="267.7" cy="193.6" r="1.2" fill="#21918c"/>
<circle cx="271.7" cy="193.4" r="1.2" fill="#365c8d"/>
<circle cx="276.1" cy="192.9" r="1.2" fill="#21918c"/>
<circle cx="270.1" cy="195.5" r="1.2" fill="#21918c"/>
<circle cx="273.0" cy="194.7" r="1.2" fill="#365c8d"/>
<circle cx="274.7" cy="195.6" r="1.2" fill="#21918c"/>
<circle cx="266.7" cy="197.1" r="1.2" fill="#21918c"/>
<circle cx="276.8" cy="196.9" r="1.2" fill="#21918c"/>
<circle cx="260.6" cy="198.2" r="1.2" fill="#440154"/>
<circle cx="268.4" cy="198.3" r="1.2" fill="#440154"/>
<circle cx="273.3" cy="197.9" r="1.2" fill="#21918c"/>
<circle cx="275.6" cy="197.9" r="1.2" fill="#365c8d"/>
<circle cx="273.3" cy="200.3" r="1.2" fill="#21918c"/>
<circle cx="275.2" cy="199.6" r="1.2" fill="#fde725"/>
<circle cx="270.7" cy="202.1" r="1.2" fill="#21918c"/>
<circle cx="269.3" cy="201.3" r="1.2" fill="#365c8d"/>
<circle cx="274.3" cy="202.5" r="1.2" fill="#21918c"/>
<circle cx="273.4" cy="203.8" r="1.2" fill="#21918c"/>
<circle cx="273.6" cy="205.8" r="1.2" fill="#21918c"/>
<circle cx="279.7" cy="192.8" r="1.2" fill="#21918c"/>
<circle cx="283.8" cy="192.7" r="1.2" fill="#472d7b"/>
<circle cx="287.6" cy="192.7" r="1.2" fill="#472d7b"/>
<circle cx="276.3" cy="194.6" r="1.2" fill="#21918c"/>
<circle cx="278.2" cy="194.3" r="1.2" fill="#21918c"/>
<circle cx="281.2" cy="194.3" r="1.2" fill="#21918c"/>
<circle cx="282.8" cy="194.0" r="1.2" fill="#365c8d"/>
<circle cx="284.8" cy="194.1" r="1.2" fill="#365c8d"/>
<circle cx="287.8" cy="194.8" r="1.2" fill="#365c8d"/>
<circle cx="278.5" cy="196.6" r="1.2" fill="#5ec962"/>
<circle cx="281.1" cy="197.2" r="1.2" fill="#21918c"/>
<circle cx="282.9" cy="196.7" r="1.2" fill="#21918c"/>
<circle cx="285.0" cy="196.6" r="1.2" fill="#365c8d"/>
<circle cx="287.9" cy="197.2" r="1.2" fill="#440154"/>
<circle cx="271.5" cy="198.0" r="1.2" fill="#21918c"/>
<circle cx="277.1" cy="198.7" r="1.2" fill="#21918c"/>
<circle cx="279.3" cy="198.8" r="1.2" fill="#21918c"/>
<circle cx="282.3" cy="198.4" r="1.2" fill="#365c8d"/>
<circle cx="284.5" cy="198.8" r="1.2" fill="#21918c"/>
<circle cx="277.3" cy="201.0" r="1.2" fill="#472d7b"/>
<circle cx="280.4" cy="201.3" r="1.2" fill="#21918c"/>
<circle cx="283.0" cy="201.2" r="1.2" fill="#21918c"/>
<circle cx="284.6" cy="200.3" r="1.2" fill="#21918c"/>
<circle cx="287.2" cy="200.7" r="1.2" fill="#21918c"/>
<circle cx="277.9" cy="202.9" r="1.2" fill="#472d7b"/>
<circle cx="283.3" cy="202.9" r="1.2" fill="#21918c"/>
<circle cx="284.9" cy="202.2" r="1.2" fill="#365c8d"/>
<circle cx="288.1" cy="201.9" r="1.2" fill="#21918c"/>
<circle cx="279.8" cy="203.8" r="1.2" fill="#21918c"/>
<circle cx="285.9" cy="204.2" r="1.2" fill="#5ec962"/>
<circle cx="288.3" cy="204.5" r="1.2" fill="#365c8d"/>
<circle cx="278.1" cy="205.4" r="1.2" fill="#fde725"/>
<circle cx="276.4" cy="205.4" r="1.2" fill="#440154"/>
<circle cx="285.5" cy="205.8" r="1.2" fill="#5ec962"/>
<circle cx="287.0" cy="206.1" r="1.2" fill="#365c8d"/>
<circle cx="276.7" cy="207.2" r="1.2" fill="#365c8d"/>
<circle cx="283.1" cy="207.8" r="1.2" fill="#440154"/>
<circle cx="278.8" cy="208.8" r="1.2" fill="#21918c"/>
<circle cx="285.7" cy="209.3" r="1.2" fill="#365c8d"/>
<circle cx="288.7" cy="209.5" r="1.2" fill="#21918c"/>
<circle cx="281.7" cy="210.5" r="1.2" fill="#fde725"/>
<circle cx="287.7" cy="211.2" r="1.2" fill="#21918c"/>
<circle cx="253.9" cy="50.1" r="1.2" fill="#365c8d"/>
<circle cx="251.7" cy="53.0" r="1.2" fill="#21918c"/>
<circle cx="256.9" cy="52.5" r="1.2" fill="#21918c"/>
<circle cx="258.4" cy="53.0" r="1.2" fill="#440154"/>
<circle cx="260.3" cy="53.0" r="1.2" fill="#365c8d"/>
<circle cx="248.8" cy="54.7" r="1.2" fill="#5ec962"/>
<circle cx="251.7" cy="54.3" r="1.2" fill="#365c8d"/>
<circle cx="256.2" cy="55.3" r="1.2" fill="#21918c"/>
<circle cx="261.7" cy="54.6" r="1.2" fill="#365c8d"/>
<circle cx="258.1" cy="56.4" r="1.2" fill="#21918c"/>
<circle cx="261.0" cy="56.1" r="1.2" fill="#472d7b"/>
<circle cx="262.5" cy="56.9" r="1.2" fill="#472d7b"/>
<circle cx="257.2" cy="58.6" r="1.2" fill="#21918c"/>
<circle cx="263.4" cy="58.7" r="1.2" fill="#365c8d"/>
<circle cx="265.0" cy="58.1" r="1.2" fill="#472d7b"/>
<circle cx="266.8" cy="58.8" r="1.2" fill="#472d7b"/>
<circle cx="248.9" cy="59.3" r="1.2" fill="#21918c"/>
<circle cx="258.4" cy="60.1" r="1.2" fill="#21918c"/>
<circle cx="260.1" cy="62.0" r="1.2" fill="#21918c"/>
<circle cx="262.6" cy="61.8" r="1.2" fill="#21918c"/>
<circle cx="265.3" cy="62.0" r="1.2" fill="#472d7b"/>
<circle cx="267.2" cy="61.4" r="1.2" fill="#365c8d"/>
<circle cx="269.8" cy="61.4" r="1.2" fill="#440154"/>
<circle cx="259.0" cy="64.0" r="1.2" fill="#fde725"/>
<circle cx="261.2" cy="63.7" r="1.2" fill="#21918c"/>
<circle cx="265.3" cy="64.1" r="1.2" fill="#21918c"/>
<circle cx="266.5" cy="63.5" r="1.2" fill="#365c8d"/>
<circle cx="268.7" cy="63.6" r="1.2" fill="#365c8d"/>
<circle cx="256.3" cy="66.4" r="1.2" fill="#472d7b"/>
<circle cx="258.7" cy="66.4" r="1.2" fill="#fde725"/>
<circle cx="264.2" cy="65.8" r="1.2" fill="#21918c"/>
<circle cx="265.8" cy="66.1" r="1.2" fill="#365c8d"/>
<circle cx="268.3" cy="66.9" r="1.2" fill="#365c8d"/>
<circle cx="264.3" cy="67.4" r="1.2" fill="#21918c"/>
<circle cx="266.1" cy="69.1" r="1.2" fill="#21918c"/>
<circle cx="265.5" cy="60.6" r="1.2" fill="#440154"/>
<circle cx="271.7" cy="62.2" r="1.2" fill="#440154"/>
<circle cx="274.1" cy="64.1" r="1.2" fill="#365c8d"/>
<circle cx="269.2" cy="65.5" r="1.2" fill="#440154"/>
<circle cx="272.3" cy="66.0" r="1.2" fill="#365c8d"/>
<circle cx="276.4" cy="66.7" r="1.2" fill="#365c8d"/>
<circle cx="278.5" cy="67.1" r="1.2" fill="#440154"/>
<circle cx="266.3" cy="67.5" r="1.2" fill="#21918c"/>
<circle cx="272.2" cy="68.0" r="1.2" fill="#440154"/>
<circle cx="273.8" cy="68.4" r="1.2" fill="#440154"/>
<circle cx="276.0" cy="70.0" r="1.2" fill="#365c8d"/>
<circle cx="278.2" cy="68.5" r="1.2" fill="#365c8d"/>
<circle cx="269.9" cy="69.8" r="1.2" fill="#365c8d"/>
<circle cx="275.1" cy="71.2" r="1.2" fill="#472d7b"/>
<circle cx="277.5" cy="70.7" r="1.2" fill="#365c8d"/>
<circle cx="280.1" cy="72.2" r="1.2" fill="#472d7b"/>
<circle cx="270.4" cy="71.3" r="1.2" fill="#21918c"/>
<circle cx="272.0" cy="72.5" r="1.2" fill="#21918c"/>
<circle cx="273.9" cy="72.2" r="1.2" fill="#21918c"/>
<circle cx="266.1" cy="73.7" r="1.2" fill="#21918c"/>
<circle cx="276.9" cy="73.5" r="1.2" fill="#21918c"/>
<circle cx="278.4" cy="73.4" r="1.2" fill="#365c8d"/>
<circle cx="280.9" cy="74.2" r="1.2" fill="#440154"/>
<circle cx="282.7" cy="74.3" r="1.2" fill="#365c8d"/>
<circle cx="270.4" cy="75.6" r="1.2" fill="#fde725"/>
<circle cx="273.3" cy="75.6" r="1.2" fill="#21918c"/>
<circle cx="278.4" cy="76.9" r="1.2" fill="#21918c"/>
<circle cx="279.8" cy="75.7" r="1.2" fill="#365c8d"/>
<circle cx="285.5" cy="76.4" r="1.2" fill="#440154"/>
<circle cx="268.1" cy="76.9" r="1.2" fill="#365c8d"/>
<circle cx="274.7" cy="78.2" r="1.2" fill="#21918c"/>
<circle cx="277.8" cy="78.9" r="1.2" fill="#21918c"/>
<circle cx="279.4" cy="77.8" r="1.2" fill="#365c8d"/>
<circle cx="282.2" cy="78.2" r="1.2" fill="#365c8d"/>
<circle cx="284.1" cy="78.2" r="1.2" fill="#472d7b"/>
<circle cx="286.0" cy="77.9" r="1.2" fill="#365c8d"/>
<circle cx="275.5" cy="80.0" r="1.2" fill="#365c8d"/>
<circle cx="278.7" cy="80.3" r="1.2" fill="#21918c"/>
<circle cx="281.4" cy="80.6" r="1.2" fill="#21918c"/>
<circle cx="284.2" cy="80.5" r="1.2" fill="#21918c"/>
<circle cx="286.3" cy="81.3" r="1.2" fill="#365c8d"/>
<circle cx="273.7" cy="82.0" r="1.2" fill="#21918c"/>
<circle cx="287.3" cy="80.5" r="1.2" fill="#365c8d"/>
<circle cx="277.2" cy="82.3" r="1.2" fill="#365c8d"/>
<circle cx="280.0" cy="82.7" r="1.2" fill="#21918c"/>
<circle cx="282.3" cy="82.6" r="1.2" fill="#21918c"/>
<circle cx="284.8" cy="82.8" r="1.2" fill="#21918c"/>
<circle cx="287.3" cy="82.1" r="1.2" fill="#365c8d"/>
<circle cx="275.5" cy="84.3" r="1.2" fill="#440154"/>
<circle cx="278.8" cy="84.3" r="1.2" fill="#21918c"/>
<circle cx="281.3" cy="84.1" r="1.2" fill="#365c8d"/>
<circle cx="286.6" cy="84.1" r="1.2" fill="#365c8d"/>
<circle cx="281.4" cy="85.6" r="1.2" fill="#21918c"/>
<circle cx="286.5" cy="86.2" r="1.2" fill="#365c8d"/>
<circle cx="274.8" cy="88.0" r="1.2" fill="#21918c"/>
<circle cx="285.8" cy="88.1" r="1.2" fill="#21918c"/>
<circle cx="278.6" cy="89.0" r="1.2" fill="#21918c"/>
<circle cx="270.1" cy="91.5" r="1.2" fill="#440154"/>
<circle cx="273.3" cy="91.9" r="1.2" fill="#440154"/>
<circle cx="287.0" cy="91.6" r="1.2" fill="#5ec962"/>
<circle cx="281.9" cy="92.6" r="1.2" fill="#365c8d"/>
<circle cx="108.7" cy="67.4" r="1.2" fill="#21918c"/>
<circle cx="109.8" cy="69.0" r="1.2" fill="#365c8d"/>
<circle cx="111.5" cy="69.0" r="1.2" fill="#440154"/>
<circle cx="110.1" cy="70.9" r="1.2" fill="#21918c"/>
<circle cx="111.4" cy="73.0" r="1.2" fill="#5ec962"/>
<circle cx="108.9" cy="74.8" r="1.2" fill="#21918c"/>
<circle cx="109.9" cy="76.8" r="1.2" fill="#21918c"/>
<circle cx="109.2" cy="78.0" r="1.2" fill="#5ec962"/>
<circle cx="116.1" cy="74.7" r="1.2" fill="#365c8d"/>
<circle cx="114.7" cy="76.1" r="1.2" fill="#365c8d"/>
<circle cx="119.4" cy="76.4" r="1.2" fill="#472d7b"/>
<circle cx="119.6" cy="78.4" r="1.2" fill="#440154"/>
<circle cx="124.0" cy="78.4" r="1.2" fill="#472d7b"/>
<circle cx="122.5" cy="79.5" r="1.2" fill="#365c8d"/>
<circle cx="125.0" cy="79.4" r="1.2" fill="#440154"/>
<circle cx="116.2" cy="79.3" r="1.2" fill="#21918c"/>
<circle cx="125.9" cy="80.9" r="1.2" fill="#440154"/>
<circle cx="126.6" cy="82.7" r="1.2" fill="#472d7b"/>
<circle cx="125.2" cy="82.0" r="1.2" fill="#365c8d"/>
<circle cx="117.8" cy="80.8" r="1.2" fill="#365c8d"/>
<circle cx="115.6" cy="82.9" r="1.2" fill="#fde725"/>
<circle cx="121.4" cy="82.2" r="1.2" fill="#5ec962"/>
<circle cx="120.1" cy="84.0" r="1.2" fill="#440154"/>
<circle cx="124.0" cy="82.5" r="1.2" fill="#365c8d"/>
<circle cx="125.6" cy="84.5" r="1.2" fill="#365c8d"/>
<circle cx="127.6" cy="83.8" r="1.2" fill="#440154"/>
<circle cx="123.7" cy="84.5" r="1.2" fill="#5ec962"/>
<circle cx="125.7" cy="86.1" r="1.2" fill="#21918c"/>
<circle cx="129.8" cy="85.4" r="1.2" fill="#472d7b"/>
<circle cx="128.6" cy="87.0" r="1.2" fill="#365c8d"/>
<circle cx="128.1" cy="82.6" r="1.2" fill="#365c8d"/>
<circle cx="130.3" cy="83.1" r="1.2" fill="#365c8d"/>
<circle cx="131.1" cy="85.3" r="1.2" fill="#440154"/>
<circle cx="132.9" cy="85.3" r="1.2" fill="#365c8d"/>
<circle cx="134.7" cy="86.1" r="1.2" fill="#365c8d"/>
<circle cx="126.5" cy="87.3" r="1.2" fill="#21918c"/>
<circle cx="128.4" cy="89.1" r="1.2" fill="#440154"/>
<circle cx="129.9" cy="87.8" r="1.2" fill="#365c8d"/>
<circle cx="131.4" cy="89.2" r="1.2" fill="#21918c"/>
<circle cx="133.3" cy="88.2" r="1.2" fill="#365c8d"/>
<circle cx="137.7" cy="89.0" r="1.2" fill="#472d7b"/>
<circle cx="127.9" cy="90.8" r="1.2" fill="#21918c"/>
<circle cx="126.5" cy="92.5" r="1.2" fill="#5ec962"/>
<circle cx="128.9" cy="93.8" r="1.2" fill="#365c8d"/>
<circle cx="131.3" cy="93.1" r="1.2" fill="#5ec962"/>
<circle cx="134.2" cy="94.6" r="1.2" fill="#21918c"/>
<circle cx="135.7" cy="93.9" r="1.2" fill="#5ec962"/>
<circle cx="137.3" cy="94.3" r="1.2" fill="#5ec962"/>
<circle cx="139.2" cy="93.8" r="1.2" fill="#21918c"/>
<circle cx="141.3" cy="94.4" r="1.2" fill="#365c8d"/>
<circle cx="134.1" cy="99.7" r="1.2" fill="#440154"/>
<circle cx="138.8" cy="98.3" r="1.2" fill="#5ec962"/>
<circle cx="140.1" cy="97.3" r="1.2" fill="#21918c"/>
<circle cx="142.6" cy="97.5" r="1.2" fill="#365c8d"/>
<circle cx="143.3" cy="98.9" r="1.2" fill="#365c8d"/>
<circle cx="146.8" cy="98.7" r="1.2" fill="#472d7b"/>
<circle cx="141.0" cy="100.9" r="1.2" fill="#365c8d"/>
<circle cx="142.7" cy="100.7" r="1.2" fill="#21918c"/>
<circle cx="146.0" cy="100.6" r="1.2" fill="#365c8d"/>
<circle cx="135.9" cy="95.6" r="1.2" fill="#5ec962"/>
<circle cx="133.9" cy="101.8" r="1.2" fill="#365c8d"/>
<circle cx="147.2" cy="97.2" r="1.2" fill="#365c8d"/>
<circle cx="147.2" cy="101.5" r="1.2" fill="#5ec962"/>
<circle cx="139.5" cy="103.3" r="1.2" fill="#5ec962"/>
<circle cx="141.3" cy="103.3" r="1.2" fill="#365c8d"/>
<circle cx="142.9" cy="102.5" r="1.2" fill="#21918c"/>
<circle cx="144.8" cy="103.8" r="1.2" fill="#21918c"/>
</g>
<g stroke="#000" fill="none">
<line x1="36.8" y1="0.7" x2="309.6" y2="0.7" stroke-width="1.4"/>
<line x1="36.8" y1="109.3" x2="309.6" y2="109.3" stroke-width="1.3"/>
<line x1="36.8" y1="217.6" x2="309.6" y2="217.6" stroke-width="1.35"/>
<line x1="37.35" y1="0" x2="37.35" y2="218.05" stroke-width="1.2"/>
<line x1="173.2" y1="0" x2="173.2" y2="218.05" stroke-width="1.2"/>
<line x1="309.0" y1="0" x2="309.0" y2="218.05" stroke-width="1.25"/>
</g>
<g stroke="#000" stroke-width="0.9">
<line x1="33.7" y1="109.10" x2="37.2" y2="109.10"/>
<line x1="35.3" y1="91.37" x2="37.2" y2="91.37" stroke="#2a2a2a" stroke-width="0.8"/>
<line x1="35.3" y1="81.00" x2="37.2" y2="81.00" stroke="#2a2a2a" stroke-width="0.8"/>
<line x1="35.3" y1="73.64" x2="37.2" y2="73.64" stroke="#2a2a2a" stroke-width="0.8"/>
<line x1="35.3" y1="67.93" x2="37.2" y2="67.93" stroke="#2a2a2a" stroke-width="0.8"/>
<line x1="35.3" y1="63.27" x2="37.2" y2="63.27" stroke="#2a2a2a" stroke-width="0.8"/>
<line x1="35.3" y1="59.32" x2="37.2" y2="59.32" stroke="#2a2a2a" stroke-width="0.8"/>
<line x1="35.3" y1="55.91" x2="37.2" y2="55.91" stroke="#2a2a2a" stroke-width="0.8"/>
<line x1="35.3" y1="52.90" x2="37.2" y2="52.90" stroke="#2a2a2a" stroke-width="0.8"/>
<line x1="33.7" y1="50.20" x2="37.2" y2="50.20"/>
<line x1="35.3" y1="32.47" x2="37.2" y2="32.47" stroke="#2a2a2a" stroke-width="0.8"/>
<line x1="35.3" y1="22.10" x2="37.2" y2="22.10" stroke="#2a2a2a" stroke-width="0.8"/>
<line x1="35.3" y1="14.74" x2="37.2" y2="14.74" stroke="#2a2a2a" stroke-width="0.8"/>
<line x1="35.3" y1="9.03" x2="37.2" y2="9.03" stroke="#2a2a2a" stroke-width="0.8"/>
<line x1="35.3" y1="4.37" x2="37.2" y2="4.37" stroke="#2a2a2a" stroke-width="0.8"/>
<line x1="169.7" y1="109.10" x2="173.2" y2="109.10"/>
<line x1="171.3" y1="91.37" x2="173.2" y2="91.37" stroke="#2a2a2a" stroke-width="0.8"/>
<line x1="171.3" y1="81.00" x2="173.2" y2="81.00" stroke="#2a2a2a" stroke-width="0.8"/>
<line x1="171.3" y1="73.64" x2="173.2" y2="73.64" stroke="#2a2a2a" stroke-width="0.8"/>
<line x1="171.3" y1="67.93" x2="173.2" y2="67.93" stroke="#2a2a2a" stroke-width="0.8"/>
<line x1="171.3" y1="63.27" x2="173.2" y2="63.27" stroke="#2a2a2a" stroke-width="0.8"/>
<line x1="171.3" y1="59.32" x2="173.2" y2="59.32" stroke="#2a2a2a" stroke-width="0.8"/>
<line x1="171.3" y1="55.91" x2="173.2" y2="55.91" stroke="#2a2a2a" stroke-width="0.8"/>
<line x1="171.3" y1="52.90" x2="173.2" y2="52.90" stroke="#2a2a2a" stroke-width="0.8"/>
<line x1="169.7" y1="50.20" x2="173.2" y2="50.20"/>
<line x1="171.3" y1="32.47" x2="173.2" y2="32.47" stroke="#2a2a2a" stroke-width="0.8"/>
<line x1="171.3" y1="22.10" x2="173.2" y2="22.10" stroke="#2a2a2a" stroke-width="0.8"/>
<line x1="171.3" y1="14.74" x2="173.2" y2="14.74" stroke="#2a2a2a" stroke-width="0.8"/>
<line x1="171.3" y1="9.03" x2="173.2" y2="9.03" stroke="#2a2a2a" stroke-width="0.8"/>
<line x1="171.3" y1="4.37" x2="173.2" y2="4.37" stroke="#2a2a2a" stroke-width="0.8"/>
<line x1="33.7" y1="217.30" x2="37.2" y2="217.30"/>
<line x1="35.3" y1="199.63" x2="37.2" y2="199.63" stroke="#2a2a2a" stroke-width="0.8"/>
<line x1="35.3" y1="189.29" x2="37.2" y2="189.29" stroke="#2a2a2a" stroke-width="0.8"/>
<line x1="35.3" y1="181.96" x2="37.2" y2="181.96" stroke="#2a2a2a" stroke-width="0.8"/>
<line x1="35.3" y1="176.27" x2="37.2" y2="176.27" stroke="#2a2a2a" stroke-width="0.8"/>
<line x1="35.3" y1="171.62" x2="37.2" y2="171.62" stroke="#2a2a2a" stroke-width="0.8"/>
<line x1="35.3" y1="167.69" x2="37.2" y2="167.69" stroke="#2a2a2a" stroke-width="0.8"/>
<line x1="35.3" y1="164.29" x2="37.2" y2="164.29" stroke="#2a2a2a" stroke-width="0.8"/>
<line x1="35.3" y1="161.29" x2="37.2" y2="161.29" stroke="#2a2a2a" stroke-width="0.8"/>
<line x1="33.7" y1="158.60" x2="37.2" y2="158.60"/>
<line x1="35.3" y1="140.93" x2="37.2" y2="140.93" stroke="#2a2a2a" stroke-width="0.8"/>
<line x1="35.3" y1="130.59" x2="37.2" y2="130.59" stroke="#2a2a2a" stroke-width="0.8"/>
<line x1="35.3" y1="123.26" x2="37.2" y2="123.26" stroke="#2a2a2a" stroke-width="0.8"/>
<line x1="35.3" y1="117.57" x2="37.2" y2="117.57" stroke="#2a2a2a" stroke-width="0.8"/>
<line x1="35.3" y1="112.92" x2="37.2" y2="112.92" stroke="#2a2a2a" stroke-width="0.8"/>
<line x1="169.7" y1="217.30" x2="173.2" y2="217.30"/>
<line x1="171.3" y1="199.63" x2="173.2" y2="199.63" stroke="#2a2a2a" stroke-width="0.8"/>
<line x1="171.3" y1="189.29" x2="173.2" y2="189.29" stroke="#2a2a2a" stroke-width="0.8"/>
<line x1="171.3" y1="181.96" x2="173.2" y2="181.96" stroke="#2a2a2a" stroke-width="0.8"/>
<line x1="171.3" y1="176.27" x2="173.2" y2="176.27" stroke="#2a2a2a" stroke-width="0.8"/>
<line x1="171.3" y1="171.62" x2="173.2" y2="171.62" stroke="#2a2a2a" stroke-width="0.8"/>
<line x1="171.3" y1="167.69" x2="173.2" y2="167.69" stroke="#2a2a2a" stroke-width="0.8"/>
<line x1="171.3" y1="164.29" x2="173.2" y2="164.29" stroke="#2a2a2a" stroke-width="0.8"/>
<line x1="171.3" y1="161.29" x2="173.2" y2="161.29" stroke="#2a2a2a" stroke-width="0.8"/>
<line x1="169.7" y1="158.60" x2="173.2" y2="158.60"/>
<line x1="171.3" y1="140.93" x2="173.2" y2="140.93" stroke="#2a2a2a" stroke-width="0.8"/>
<line x1="171.3" y1="130.59" x2="173.2" y2="130.59" stroke="#2a2a2a" stroke-width="0.8"/>
<line x1="171.3" y1="123.26" x2="173.2" y2="123.26" stroke="#2a2a2a" stroke-width="0.8"/>
<line x1="171.3" y1="117.57" x2="173.2" y2="117.57" stroke="#2a2a2a" stroke-width="0.8"/>
<line x1="171.3" y1="112.92" x2="173.2" y2="112.92" stroke="#2a2a2a" stroke-width="0.8"/>
<line x1="59.2" y1="217.3" x2="59.2" y2="220.8"/>
<line x1="103.8" y1="217.3" x2="103.8" y2="220.8"/>
<line x1="148.4" y1="217.3" x2="148.4" y2="220.8"/>
<line x1="195.2" y1="217.3" x2="195.2" y2="220.8"/>
<line x1="239.8" y1="217.3" x2="239.8" y2="220.8"/>
<line x1="284.4" y1="217.3" x2="284.4" y2="220.8"/>
</g>
<rect x="316.4" y="147.11" width="8.1" height="59.19" fill="#440154"/>
<rect x="316.4" y="127.38" width="8.1" height="19.73" fill="#472d7b"/>
<rect x="316.4" y="107.65" width="8.1" height="19.73" fill="#365c8d"/>
<rect x="316.4" y="87.92" width="8.1" height="19.73" fill="#21918c"/>
<rect x="316.4" y="68.19" width="8.1" height="19.73" fill="#5ec962"/>
<rect x="316.4" y="9.00" width="8.1" height="59.19" fill="#fde725"/>
<rect x="316.4" y="9.0" width="8.1" height="197.3" fill="none" stroke="#000" stroke-width="0.9"/>
<g stroke="#000" stroke-width="0.9">
<line x1="324.5" y1="206.30" x2="327.1" y2="206.30"/>
<line x1="324.5" y1="166.84" x2="327.1" y2="166.84"/>
<line x1="324.5" y1="127.38" x2="327.1" y2="127.38"/>
<line x1="324.5" y1="87.92" x2="327.1" y2="87.92"/>
<line x1="324.5" y1="48.46" x2="327.1" y2="48.46"/>
<line x1="324.5" y1="9.00" x2="327.1" y2="9.00"/>
</g>
<g font-size="12.3">
<text x="30.8" y="54.4" text-anchor="end">10<tspan font-size="8.5" dy="-3.8">2</tspan></text>
<text x="30.8" y="113.4" text-anchor="end">10<tspan font-size="8.5" dy="-3.8">1</tspan></text>
<text x="30.8" y="163.4" text-anchor="end">10<tspan font-size="8.5" dy="-3.8">2</tspan></text>
<text x="30.8" y="221.6" text-anchor="end">10<tspan font-size="8.5" dy="-3.8">1</tspan></text>
<g text-anchor="middle">
<text x="59.2" y="231.5">16</text><text x="103.8" y="231.5">18</text><text x="148.4" y="231.5">20</text>
<text x="195.2" y="231.5">16</text><text x="239.8" y="231.5">18</text><text x="284.4" y="231.5">20</text>
</g>
<text x="329.8" y="210.80">1.0</text>
<text x="329.8" y="171.34">1.4</text>
<text x="329.8" y="131.88">1.8</text>
<text x="329.8" y="92.42">2.2</text>
<text x="329.8" y="52.96">2.6</text>
<text x="329.8" y="13.50">3.0</text>
</g>
<g font-size="13" text-anchor="middle">
<text x="105.2" y="245">mag</text>
<text x="241" y="245">mag</text>
</g>
<g font-size="15" text-anchor="middle">
<text x="157.2" y="22.3">u</text>
<text x="293.1" y="22.3">g</text>
<text x="156.3" y="130.6">r</text>
<text x="291" y="130.6">i</text>
</g>
<g font-size="13.5" text-anchor="middle">
<text transform="translate(9.9,57.3) rotate(-90)">log<tspan font-size="9" dy="2.7">10</tspan><tspan dy="-2.7"> (S/N)</tspan></text>
<text transform="translate(9.9,165.5) rotate(-90)">log<tspan font-size="9" dy="2.7">10</tspan><tspan dy="-2.7"> (S/N)</tspan></text>
<text font-size="12" style="stroke-width:0.4px" transform="translate(358,106.6) rotate(-90) scale(0.86,1)">FWHM</text>
</g>
</svg>
</body></html>
